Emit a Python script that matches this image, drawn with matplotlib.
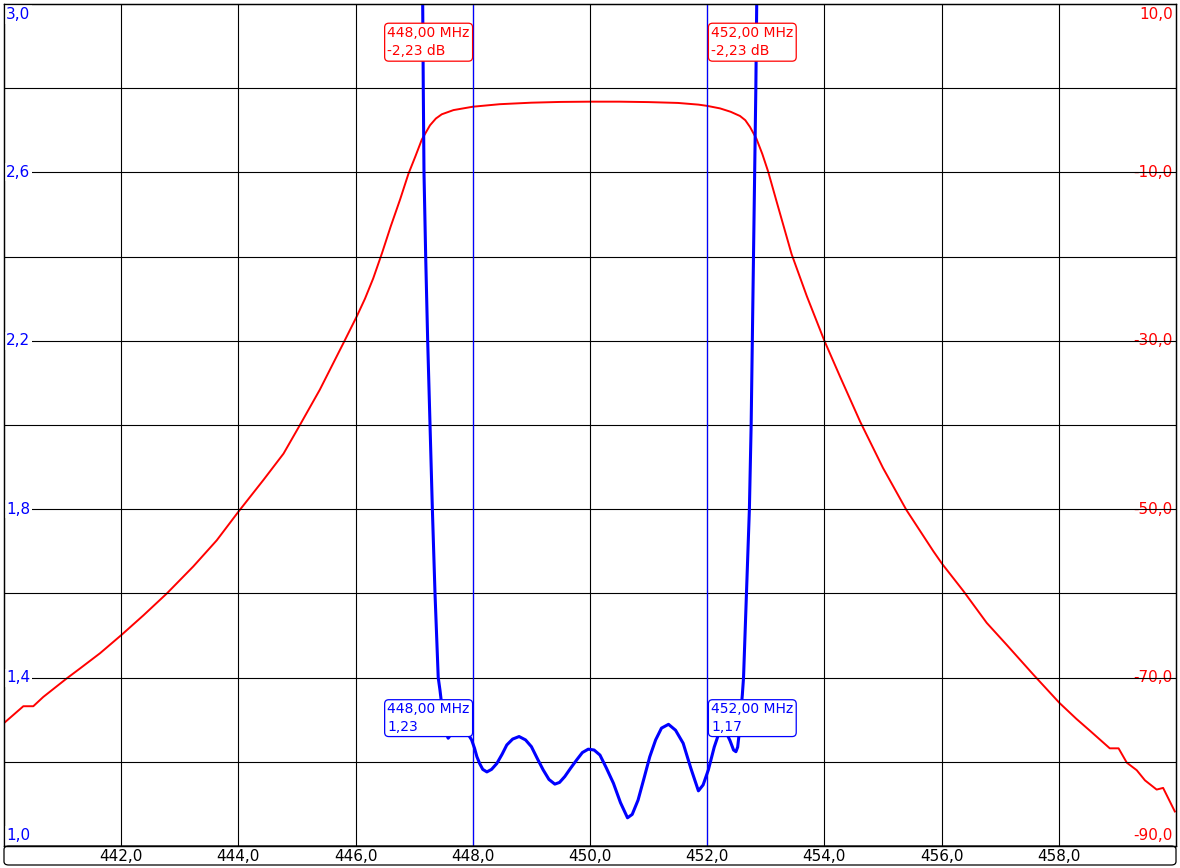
import matplotlib
matplotlib.use("Agg")
import matplotlib.pyplot as plt
from matplotlib.patches import FancyBboxPatch

# S21 transmission (dB, right axis)
red_freq = [440.00, 440.33, 440.50, 440.67, 441.07, 441.30, 441.64, 442.01, 442.38, 442.78,
            443.23, 443.63, 444.00, 444.43, 444.77, 445.05, 445.39, 445.79, 446.02, 446.16,
            446.30, 446.45, 446.60, 446.76, 446.90, 447.02, 447.13, 447.27, 447.37, 447.47,
            447.67, 448.00, 448.46, 449.00, 449.50, 450.00, 450.50, 451.00, 451.50, 451.85,
            452.00, 452.22, 452.40, 452.56, 452.65, 452.73, 452.84, 452.94, 453.04, 453.19,
            453.44, 453.70, 454.00, 454.27, 454.61, 455.00, 455.40, 455.86, 456.01, 456.37,
            456.77, 457.11, 457.56, 458.01, 458.30, 458.53, 458.87, 459.02, 459.16, 459.33,
            459.47, 459.67, 459.78, 459.98]
red_db = [-75.4, -73.4, -73.4, -72.3, -70.1, -68.9, -67.1, -64.9, -62.6, -60.0,
          -56.8, -53.7, -50.3, -46.5, -43.4, -40.0, -35.8, -30.3, -27.1, -25.0,
          -22.6, -19.6, -16.4, -13.2, -10.2, -8.1, -6.1, -4.4, -3.6, -3.1,
          -2.6, -2.2, -1.9, -1.72, -1.63, -1.6, -1.6, -1.65, -1.75, -1.95,
          -2.1, -2.4, -2.8, -3.3, -3.8, -4.6, -6.0, -7.8, -9.9, -13.6,
          -19.7, -24.7, -30.0, -34.3, -39.6, -45.1, -50.1, -55.0, -56.5, -59.7,
          -63.5, -66.1, -69.6, -73.0, -74.9, -76.3, -78.4, -78.4, -80.1, -81.0,
          -82.2, -83.3, -83.1, -85.9]

# VSWR (left axis)
blue_freq = [447.13, 447.145, 447.155, 447.167, 447.196, 447.23, 447.27, 447.31, 447.355, 447.41,
             447.44, 447.47, 447.52, 447.55, 447.58, 447.65, 447.72, 447.78, 447.84, 447.90,
             447.98, 448.03, 448.07, 448.12, 448.17, 448.24, 448.32, 448.41, 448.50, 448.58,
             448.68, 448.79, 448.90, 449.00, 449.10, 449.20, 449.30, 449.40, 449.48, 449.57,
             449.67, 449.77, 449.87, 449.97, 450.07, 450.17, 450.28, 450.40, 450.52, 450.64,
             450.72, 450.82, 450.92, 451.02, 451.12, 451.22, 451.34, 451.46, 451.59, 451.72,
             451.85, 451.93, 452.02, 452.12, 452.20, 452.27, 452.33, 452.39, 452.45, 452.49,
             452.52, 452.54, 452.57, 452.60, 452.62, 452.645, 452.67, 452.72, 452.75, 452.77,
             452.79, 452.81, 452.83, 452.845, 452.86]
blue_vswr = [3.10, 3.00, 2.80, 2.60, 2.40, 2.20, 2.00, 1.80, 1.60, 1.40,
             1.37, 1.335, 1.29, 1.266, 1.256, 1.270, 1.282, 1.285, 1.280, 1.270,
             1.252, 1.232, 1.212, 1.195, 1.182, 1.176, 1.182, 1.196, 1.218, 1.240,
             1.254, 1.260, 1.252, 1.236, 1.208, 1.181, 1.158, 1.147, 1.151, 1.165,
             1.185, 1.204, 1.222, 1.230, 1.228, 1.216, 1.185, 1.149, 1.103, 1.067,
             1.075, 1.109, 1.160, 1.212, 1.252, 1.280, 1.289, 1.275, 1.244, 1.185,
             1.131, 1.145, 1.181, 1.235, 1.268, 1.277, 1.268, 1.250, 1.228, 1.224,
             1.235, 1.260, 1.310, 1.360, 1.400, 1.500, 1.600, 1.800, 2.000, 2.200,
             2.400, 2.600, 2.800, 3.000, 3.100]

x_ticks = [442, 444, 446, 448, 450, 452, 454, 456, 458]
left_ticks = [1.0, 1.4, 1.8, 2.2, 2.6, 3.0]
right_ticks = [-90, -70, -50, -30, -10, 10]
markers = [448.0, 452.0]
marker_db = ["-2,23 dB", "-2,23 dB"]
marker_vswr = ["1,23", "1,17"]

BLUE = "#0000ff"
RED = "#ff0000"

fig = plt.figure(figsize=(11.8, 8.68), dpi=100)
W, H = 1180, 868
ax = fig.add_axes([4 / W, 22 / H, 1172 / W, 842 / H])
ax2 = ax.twinx()

ax.set_xlim(440, 460)
ax.set_ylim(1.0, 3.0)
ax2.set_ylim(-90, 10)

# grid
for f in range(441, 460):
    if f % 2 == 0:
        ax.axvline(f, color="black", lw=0.8, zorder=1)
for k in range(1, 10):
    ax.axhline(1.0 + 0.2 * k, color="black", lw=0.8, zorder=1)
for m in markers:
    ax.axvline(m, color=BLUE, lw=0.9, zorder=2)

ax.set_xticks(x_ticks)
ax.set_xticklabels([f"{t:.1f}".replace(".", ",") for t in x_ticks], fontsize=11)
ax.tick_params(axis="x", length=0, pad=2)
ax.set_yticks([])
ax2.set_yticks([])
for a in (ax, ax2):
    for s in a.spines.values():
        s.set_color("black")
        s.set_linewidth(0.9)
        s.set_zorder(10)

ax2.plot(red_freq, red_db, color=RED, lw=1.4, zorder=3)
ax.plot(blue_freq, blue_vswr, color=BLUE, lw=2.2, zorder=4)
ax.set_zorder(ax2.get_zorder() + 1)
ax.patch.set_visible(False)

# y labels inside the plot
bb = dict(boxstyle="square,pad=0.1", fc="white", ec="none")
for v in left_ticks:
    txt = f"{v:.1f}".replace(".", ",")
    if v == 3.0:
        va, dy = "top", -3
    elif v == 1.0:
        va, dy = "bottom", 3
    else:
        va, dy = "center", 0
    ax.annotate(txt, (0, v), xycoords=("axes fraction", "data"), xytext=(2, dy),
                textcoords="offset pixels", ha="left", va=va, color=BLUE,
                fontsize=11, bbox=bb, zorder=6)
for v in right_ticks:
    txt = f"{v:.1f}".replace(".", ",")
    if v == 10:
        va, dy = "top", -3
    elif v == -90:
        va, dy = "bottom", 3
    else:
        va, dy = "center", 0
    ax2.annotate(txt, (1, v), xycoords=("axes fraction", "data"), xytext=(-3, dy),
                 textcoords="offset pixels", ha="right", va=va, color=RED,
                 fontsize=11, bbox=bb, zorder=6)

# marker readouts
for i, m in enumerate(markers):
    ha = "right" if i == 0 else "left"
    dx = -3 if i == 0 else 4
    freq_txt = f"{m:.2f}".replace(".", ",") + " MHz"
    ax.annotate(freq_txt + "\n" + marker_db[i], (m, 1), xycoords=("data", "axes fraction"),
                xytext=(dx, -22), textcoords="offset pixels", ha=ha, va="top",
                multialignment="left", color=RED, fontsize=10, linespacing=1.4, zorder=7,
                bbox=dict(boxstyle="round,pad=0.2,rounding_size=0.3", fc="white", ec=RED, lw=0.9))
    ax.annotate(freq_txt + "\n" + marker_vswr[i], (m, 1.348), xycoords="data",
                xytext=(dx, -3), textcoords="offset pixels", ha=ha, va="top",
                multialignment="left", color=BLUE, fontsize=10, linespacing=1.3, zorder=7,
                bbox=dict(boxstyle="round,pad=0.2,rounding_size=0.3", fc="white", ec=BLUE, lw=0.9))

# rounded frame under the x axis labels
box = FancyBboxPatch((4 / W, 3 / H), 1172 / W, 19 / H, transform=fig.transFigure,
                     boxstyle="round,pad=0,rounding_size=0.004", fc="none", ec="black", lw=0.9)
fig.patches.append(box)

fig.savefig("out.png", dpi=100)
